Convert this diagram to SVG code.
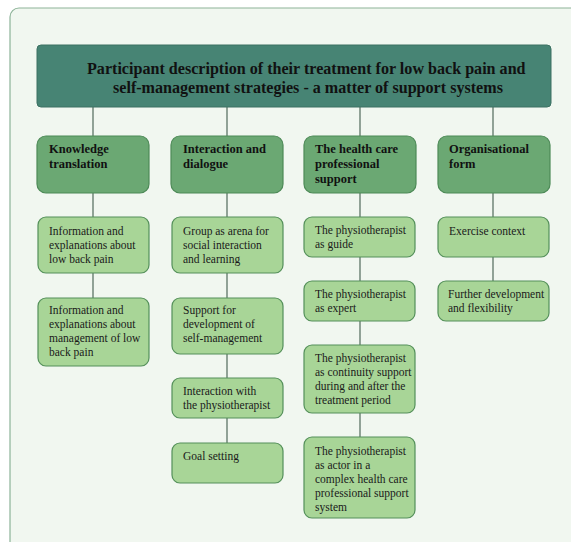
<svg xmlns="http://www.w3.org/2000/svg" width="571" height="542" viewBox="0 0 571 542">
<style>
.frame{fill:#f1f7f0;stroke:#8db398;stroke-width:1.2}
.title{fill:#478474;stroke:#3c7163;stroke-width:1}
.cat{fill:#6ba873;stroke:#4d8a57;stroke-width:1.2}
.item{fill:#a8d597;stroke:#54905a;stroke-width:1.2}
.conn line{stroke:#5d7566;stroke-width:1.3}
.tt{font-family:"Liberation Serif","Times New Roman",serif;font-weight:bold;font-size:16.1px;fill:#111}
.ct{font-family:"Liberation Serif","Times New Roman",serif;font-weight:bold;font-size:12.5px;fill:#111}
.it{font-family:"Liberation Serif","Times New Roman",serif;font-size:11.5px;fill:#1a1a1a}
</style>
<rect class="frame" x="10" y="8" width="600" height="600" rx="9"/>
<g class="conn" id="connectors">
<line x1="93" y1="107" x2="93" y2="136"/>
<line x1="227" y1="107" x2="227" y2="136"/>
<line x1="360" y1="107" x2="360" y2="136"/>
<line x1="493" y1="107" x2="493" y2="136"/>
<line x1="93" y1="193" x2="93" y2="217"/>
<line x1="93" y1="273" x2="93" y2="298"/>
<line x1="227" y1="193" x2="227" y2="217"/>
<line x1="227" y1="273" x2="227" y2="298"/>
<line x1="227" y1="354" x2="227" y2="378"/>
<line x1="227" y1="418" x2="227" y2="443"/>
<line x1="360" y1="193" x2="360" y2="217"/>
<line x1="360" y1="257" x2="360" y2="281"/>
<line x1="360" y1="321" x2="360" y2="345"/>
<line x1="360" y1="413" x2="360" y2="437"/>
<line x1="493" y1="193" x2="493" y2="217"/>
<line x1="493" y1="257" x2="493" y2="281"/>
</g>
<g id="title">
<rect class="title" x="37" y="45" width="514" height="62" rx="4"/>
<text class="tt" x="87" y="74">Participant description of their treatment for low back pain and</text>
<text class="tt" x="113" y="93">self-management strategies - a matter of support systems</text>
</g>
<g id="cat1">
<rect class="cat" x="37" y="136" width="112" height="57" rx="9"/>
<text class="ct" x="49" y="153">Knowledge</text>
<text class="ct" x="49" y="168">translation</text>
</g>
<g id="cat2">
<rect class="cat" x="171" y="136" width="112" height="57" rx="9"/>
<text class="ct" x="183" y="153">Interaction and</text>
<text class="ct" x="183" y="168">dialogue</text>
</g>
<g id="cat3">
<rect class="cat" x="304" y="136" width="112" height="57" rx="9"/>
<text class="ct" x="315" y="153">The health care</text>
<text class="ct" x="315" y="168">professional</text>
<text class="ct" x="315" y="183">support</text>
</g>
<g id="cat4">
<rect class="cat" x="438" y="136" width="112" height="57" rx="9"/>
<text class="ct" x="449" y="153">Organisational</text>
<text class="ct" x="449" y="168">form</text>
</g>
<g id="k1">
<rect class="item" x="38" y="217" width="111" height="56" rx="8"/>
<text class="it" x="49" y="234.5">Information and</text>
<text class="it" x="49" y="248.5">explanations about</text>
<text class="it" x="49" y="262.5">low back pain</text>
</g>
<g id="k2">
<rect class="item" x="38" y="298" width="111" height="68" rx="8"/>
<text class="it" x="49" y="314">Information and</text>
<text class="it" x="49" y="328">explanations about</text>
<text class="it" x="49" y="342">management of low</text>
<text class="it" x="49" y="356">back pain</text>
</g>
<g id="i1">
<rect class="item" x="172" y="217" width="111" height="56" rx="8"/>
<text class="it" x="183" y="234.5">Group as arena for</text>
<text class="it" x="183" y="248.5">social interaction</text>
<text class="it" x="183" y="262.5">and learning</text>
</g>
<g id="i2">
<rect class="item" x="172" y="298" width="111" height="56" rx="8"/>
<text class="it" x="183" y="314">Support for</text>
<text class="it" x="183" y="328">development of</text>
<text class="it" x="183" y="342">self-management</text>
</g>
<g id="i3">
<rect class="item" x="172" y="378" width="111" height="40" rx="8"/>
<text class="it" x="183" y="395">Interaction with</text>
<text class="it" x="183" y="409">the physiotherapist</text>
</g>
<g id="i4">
<rect class="item" x="172" y="443" width="111" height="40" rx="8"/>
<text class="it" x="183" y="460">Goal setting</text>
</g>
<g id="h1">
<rect class="item" x="304" y="217" width="111" height="40" rx="8"/>
<text class="it" x="315" y="234">The physiotherapist</text>
<text class="it" x="315" y="248">as guide</text>
</g>
<g id="h2">
<rect class="item" x="304" y="281" width="111" height="40" rx="8"/>
<text class="it" x="315" y="298">The physiotherapist</text>
<text class="it" x="315" y="312">as expert</text>
</g>
<g id="h3">
<rect class="item" x="304" y="345" width="111" height="68" rx="8"/>
<text class="it" x="315" y="362">The physiotherapist</text>
<text class="it" x="315" y="376">as continuity support</text>
<text class="it" x="315" y="390">during and after the</text>
<text class="it" x="315" y="404">treatment period</text>
</g>
<g id="h4">
<rect class="item" x="304" y="437" width="111" height="81" rx="8"/>
<text class="it" x="315" y="455">The physiotherapist</text>
<text class="it" x="315" y="469">as actor in a</text>
<text class="it" x="315" y="483">complex health care</text>
<text class="it" x="315" y="497">professional support</text>
<text class="it" x="315" y="511">system</text>
</g>
<g id="o1">
<rect class="item" x="438" y="217" width="111" height="40" rx="8"/>
<text class="it" x="449" y="235">Exercise context</text>
</g>
<g id="o2">
<rect class="item" x="438" y="281" width="111" height="40" rx="8"/>
<text class="it" x="448" y="298">Further development</text>
<text class="it" x="448" y="312">and flexibility</text>
</g>
</svg>
